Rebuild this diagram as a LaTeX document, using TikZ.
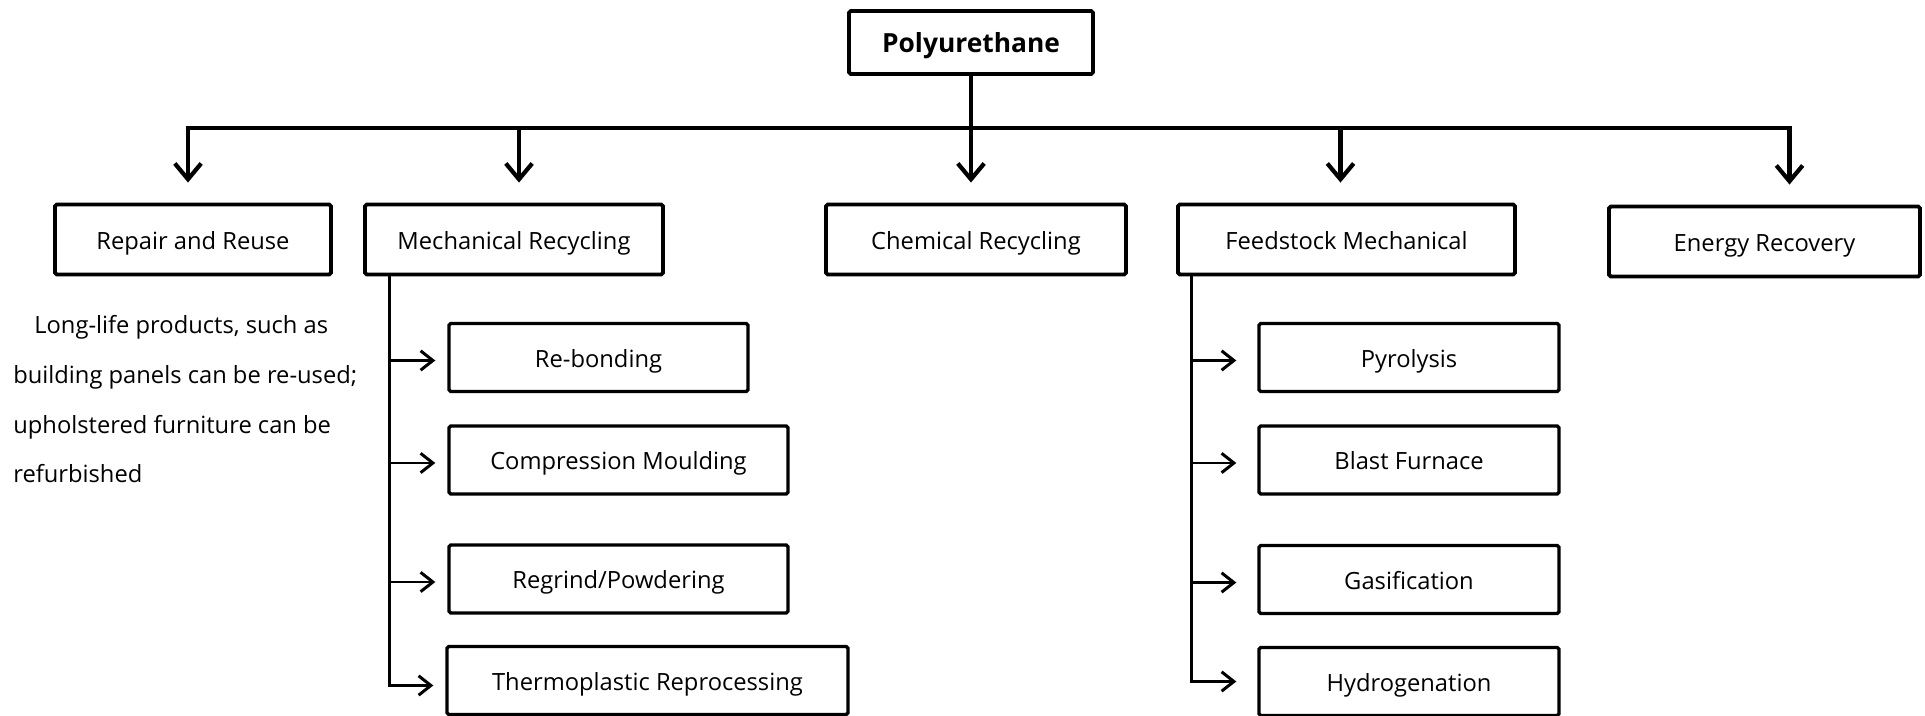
\documentclass[tikz,border=0pt]{standalone}
\usepackage{fontspec}
\setmainfont{Open Sans}
\usepackage{tikz}
\usetikzlibrary{arrows.meta}
\newlength\pxu
\setlength\pxu{0.02cm}

\begin{document}
\begin{tikzpicture}[
    x=0.02cm, y=-0.02cm,
    box/.style={draw, line width=2.2pt, rounded corners=1pt, align=center, font=\fontsize{13.5}{16}\selectfont, inner sep=0pt, text height=12.3pt, text depth=0.5pt, minimum height=70\pxu},
    subbox/.style={box, line width=1.9pt, text height=11.8pt, minimum height=68\pxu},
    trunk/.style={line width=2.4pt},
    down/.style={-{Straight Barb[length=9pt,width=15pt]}, line width=2.4pt, shorten >=20\pxu},
    side/.style={-{Straight Barb[length=7pt,width=11pt]}, line width=1.7pt, shorten >=12\pxu},
  ]
  \useasboundingbox (0,0) rectangle (1925,716);
  % top level
  \node[box, font=\bfseries\fontsize{15}{18}\selectfont, minimum width=244\pxu, minimum height=63\pxu] (poly) at (971,42.5) {Polyurethane};
  \node[box, minimum width=276\pxu] (repair) at (193,239.5) {Repair and Reuse};
  \node[box, minimum width=298\pxu] (mech) at (514,239.5) {Mechanical Recycling};
  \node[box, minimum width=300\pxu] (chem) at (976,239.5) {Chemical Recycling};
  \node[box, minimum width=337\pxu] (feed) at (1346.5,239.5) {Feedstock Mechanical};
  \node[box, minimum width=311\pxu] (energy) at (1764.5,241.5) {Energy Recovery};
  % note under repair
  \node[anchor=north west, inner sep=0pt, align=left, font=\fontsize{13.5}{28.35}\selectfont] (note) at (13,315)
    {\hspace*{21\pxu}Long-life products, such as\\building panels can be re-used;\\upholstered furniture can be\\refurbished};
  % mechanical branch
  \node[subbox, minimum width=299\pxu] (rebond) at (598.5,357.5) {Re-bonding};
  \node[subbox, minimum width=339\pxu] (compress) at (618.5,460) {Compression Moulding};
  \node[subbox, minimum width=339\pxu] (regrind) at (618.5,579) {Regrind/Powdering};
  \node[subbox, minimum width=401\pxu] (thermo) at (647.5,680.5) {Thermoplastic Reprocessing};
  % feedstock branch
  \node[subbox, minimum width=300\pxu] (pyro) at (1409,357.5) {Pyrolysis};
  \node[subbox, minimum width=300\pxu] (blast) at (1409,460) {Blast Furnace};
  \node[subbox, minimum width=300\pxu] (gasif) at (1409,579.5) {Gasification};
  \node[subbox, minimum width=300\pxu] (hydro) at (1409,681.5) {Hydrogenation};

  % connectors
  \coordinate (bus) at (0,128);
  \draw[trunk] (poly.south) -- (poly.south |- bus);
  \draw[down] (poly.south |- bus) -| ([xshift=-5\pxu]repair.north);
  \draw[down] (poly.south |- bus) -| ([xshift=25\pxu]energy.north);
  \draw[down] ([xshift=5\pxu]mech.north |- bus) -- ([xshift=5\pxu]mech.north);
  \draw[down] ([xshift=-6\pxu]feed.north |- bus) -- ([xshift=-6\pxu]feed.north);
  \draw[down] (poly.south) -- (poly.south |- chem.north);

  \coordinate (mspine) at ([xshift=26\pxu]mech.south west);
  \draw[side] (mspine) |- ([yshift=-5\pxu]thermo.west);
  \foreach \s in {rebond, compress, regrind}
    \draw[side] ([yshift=-3\pxu]mspine |- \s.west) -- ([yshift=-3\pxu]\s.west);

  \coordinate (fspine) at ([xshift=15\pxu]feed.south west);
  \draw[side, shorten >=21\pxu] (fspine) |- (hydro.west);
  \foreach \s in {pyro, blast, gasif}
    \draw[side, shorten >=21\pxu] ([yshift=-3\pxu]fspine |- \s.west) -- ([yshift=-3\pxu]\s.west);
\end{tikzpicture}
\end{document}
